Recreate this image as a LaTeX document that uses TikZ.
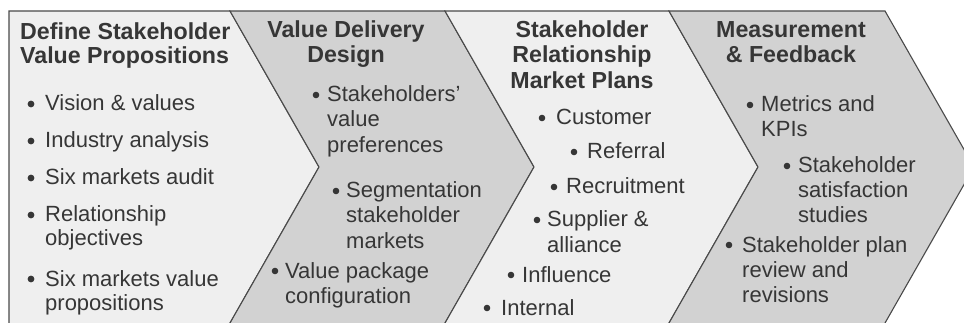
\documentclass[tikz,border=0pt]{standalone}
\usepackage{fontspec}
\setmainfont{Liberation Sans}
\definecolor{lightp}{HTML}{EFEFEF}
\definecolor{darkp}{HTML}{D2D2D2}
\definecolor{edge}{HTML}{4A4A4A}
\definecolor{ink}{HTML}{363636}
\begin{document}
\begin{tikzpicture}[x=1pt,y=-1pt,
  body/.style={font=\fontsize{22}{24}\selectfont, text=ink, inner sep=0pt, anchor=base west},
  head/.style={font=\fontsize{23.2}{25}\selectfont\bfseries, text=ink, inner sep=0pt, anchor=base west},
  headc/.style={head, anchor=base},
  panel/.style={draw=edge, line width=1.1pt, line join=miter},
  dot/.style={fill=ink}]
\useasboundingbox (0,0) rectangle (964,323);
\begin{scope}
\clip (0,0) rectangle (964,323);
\path[panel, fill=lightp] (9,11) -- (230,11) -- (319,167) -- (228.3,326) -- (9,326) -- cycle;
\path[panel, fill=darkp] (230,11) -- (445,11) -- (534,167) -- (443.3,326) -- (228.3,326) -- (319,167) -- cycle;
\path[panel, fill=lightp] (445,11) -- (669,11) -- (758,167) -- (667.3,326) -- (443.3,326) -- (534,167) -- cycle;
\path[panel, fill=darkp] (669,11) -- (885,11) -- (974,167) -- (883.3,326) -- (667.3,326) -- (758,167) -- cycle;
\end{scope}

% Panel 1
\node[head] (t1a) at (20,40) {Define Stakeholder};
\node[head] (t1b) at (20,64) {Value Propositions};
\fill[dot] (31,104) circle (3.4);
\node[body] (a1) at (45,111) {Vision \& values};
\fill[dot] (31,141) circle (3.4);
\node[body] (a2) at (45,148) {Industry analysis};
\fill[dot] (31,178) circle (3.4);
\node[body] (a3) at (45,185) {Six markets audit};
\fill[dot] (31,215) circle (3.4);
\node[body] (a4) at (45,222) {Relationship};
\node[body] (a4b) at (45,246) {objectives};
\fill[dot] (31,279) circle (3.4);
\node[body] (a5) at (45,286) {Six markets value};
\node[body] (a5b) at (45,310) {propositions};

% Panel 2
\node[headc] (t2a) at (346,38) {Value Delivery};
\node[headc] (t2b) at (346,63) {Design};
\fill[dot] (316,95) circle (3.3);
\node[body] (b1) at (327,102) {Stakeholders’};
\node[body] (b1b) at (327,127) {value};
\node[body] (b1c) at (327,153) {preferences};
\fill[dot] (336,191) circle (3.3);
\node[body] (b2) at (346,198) {Segmentation};
\node[body] (b2b) at (346,223) {stakeholder};
\node[body] (b2c) at (346,249) {markets};
\fill[dot] (275,271) circle (3.3);
\node[body] (b3) at (285,278) {Value package};
\node[body] (b3b) at (285,303) {configuration};

% Panel 3
\node[headc] (t3a) at (582,38) {Stakeholder};
\node[headc] (t3b) at (582,63) {Relationship};
\node[headc] (t3c) at (582,89) {Market Plans};
\fill[dot] (542,118) circle (3.3);
\node[body] (c1) at (556,125) {Customer};
\fill[dot] (574,152) circle (3.3);
\node[body] (c2) at (587,159) {Referral};
\fill[dot] (554,187) circle (3.3);
\node[body] (c3) at (566,194) {Recruitment};
\fill[dot] (537,220) circle (3.3);
\node[body] (c4) at (547,227) {Supplier \&};
\node[body] (c4b) at (547,252) {alliance};
\fill[dot] (511,275) circle (3.3);
\node[body] (c5) at (522,282) {Influence};
\fill[dot] (487,308) circle (3.3);
\node[body] (c6) at (501,315) {Internal};

% Panel 4
\node[headc] (t4a) at (791,38) {Measurement};
\node[headc] (t4b) at (791,63) {\& Feedback};
\fill[dot] (750,105) circle (3.3);
\node[body] (d1) at (761,112) {Metrics and};
\node[body] (d1b) at (761,137) {KPIs};
\fill[dot] (787,166) circle (3.3);
\node[body] (d2) at (798,173) {Stakeholder};
\node[body] (d2b) at (798,198) {satisfaction};
\node[body] (d2c) at (798,223) {studies};
\fill[dot] (729,245) circle (3.3);
\node[body] (d3) at (742,252) {Stakeholder plan};
\node[body] (d3b) at (742,277) {review and};
\node[body] (d3c) at (742,302) {revisions};
\end{tikzpicture}
\end{document}
